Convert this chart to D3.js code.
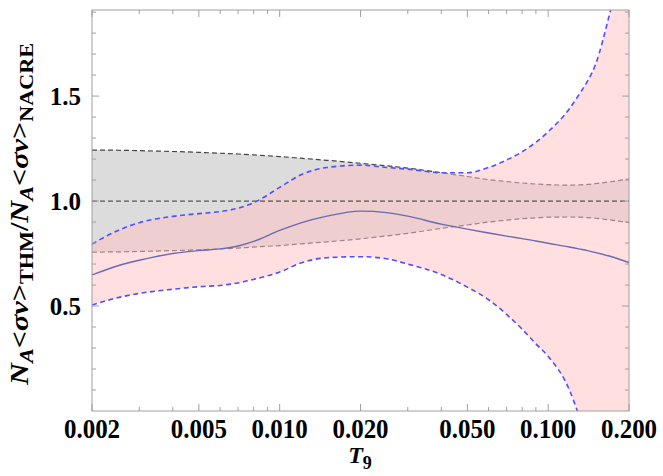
<!DOCTYPE html>
<html>
<head>
<meta charset="utf-8">
<script src="https://cdn.jsdelivr.net/npm/d3@7"></script>
<style>
  html, body { margin: 0; padding: 0; background: #ffffff; }
  svg { display: block; }
  text { font-family: "Liberation Serif", "Times New Roman", serif; font-weight: bold; fill: #000; }
</style>
</head>
<body>
<svg id="chart" width="663" height="476"></svg>
<script>
// ---------------- data ----------------
const t9 = [0.002, 0.0025, 0.003, 0.004, 0.005, 0.006, 0.007, 0.008, 0.01, 0.012, 0.015, 0.02, 0.025, 0.03, 0.04, 0.05, 0.06, 0.07, 0.08, 0.09, 0.1, 0.12, 0.13, 0.14, 0.15, 0.17, 0.2];
const nacreHi = [1.243, 1.242, 1.240, 1.236, 1.232, 1.228, 1.224, 1.220, 1.212, 1.204, 1.194, 1.180, 1.168, 1.157, 1.135, 1.117, 1.102, 1.093, 1.086, 1.081, 1.078, 1.076, 1.077, 1.079, 1.083, 1.092, 1.105];
const nacreLo = [0.757, 0.758, 0.760, 0.764, 0.768, 0.772, 0.776, 0.781, 0.788, 0.796, 0.806, 0.820, 0.834, 0.846, 0.870, 0.886, 0.900, 0.909, 0.916, 0.920, 0.923, 0.924, 0.923, 0.921, 0.918, 0.910, 0.897];
const thmCentral = [0.648, 0.692, 0.718, 0.750, 0.764, 0.772, 0.786, 0.808, 0.860, 0.896, 0.928, 0.952, 0.945, 0.928, 0.890, 0.866, 0.848, 0.833, 0.821, 0.810, 0.799, 0.781, 0.772, 0.764, 0.755, 0.737, 0.707];
const thmHi = [0.795, 0.860, 0.897, 0.927, 0.940, 0.950, 0.966, 0.992, 1.065, 1.125, 1.160, 1.171, 1.160, 1.152, 1.135, 1.135, 1.160, 1.195, 1.235, 1.280, 1.330, 1.440, 1.505, 1.570, 1.650, 1.900, 2.300];
const thmLo = [0.505, 0.540, 0.560, 0.580, 0.592, 0.598, 0.610, 0.627, 0.662, 0.705, 0.730, 0.735, 0.725, 0.700, 0.650, 0.590, 0.530, 0.460, 0.390, 0.320, 0.260, 0.100, -0.020, -0.150, -0.280, -0.550, -0.950];
const referenceLine = [1.0, 1.0];
const referenceT9 = [0.002, 0.2];
const xTickLabels = ["0.002", "0.005", "0.010", "0.020", "0.050", "0.100", "0.200"];
const xTickValues = [0.002, 0.005, 0.01, 0.02, 0.05, 0.1, 0.2];
const yTickLabels = ["0.5", "1.0", "1.5"];
const yTickValues = [0.5, 1.0, 1.5];

// ---------------- layout ----------------
const svg = d3.select("#chart");
const L = 92, R = 629, T = 10, B = 411;
const x = d3.scaleLog().domain([0.002, 0.2]).range([L, R]);
const y = d3.scaleLinear().domain([0, 1.91]).range([B, T]);

svg.append("defs").append("clipPath").attr("id", "plotclip")
  .append("rect").attr("x", L).attr("y", T).attr("width", R - L).attr("height", B - T);

const plot = svg.append("g").attr("clip-path", "url(#plotclip)");
const curve = d3.curveMonotoneX;
const idx = d3.range(t9.length);

const areaGen = (lo, hi) => d3.area().curve(curve)
  .x(i => x(t9[i])).y0(i => y(lo[i])).y1(i => y(hi[i]));
const lineGen = arr => d3.line().curve(curve)
  .x(i => x(t9[i])).y(i => y(arr[i]));

// gray NACRE band
plot.append("path").attr("d", areaGen(nacreLo, nacreHi)(idx))
  .attr("fill", "#dcdcdc").attr("stroke", "none");
// NACRE bounds (under the pink fill)
[nacreHi, nacreLo].forEach(arr => {
  plot.append("path").attr("d", lineGen(arr)(idx))
    .attr("fill", "none").attr("stroke", "#444444").attr("stroke-width", 1.2)
    .attr("stroke-dasharray", "5,3");
});
// pink THM band
plot.append("path").attr("d", areaGen(thmLo, thmHi)(idx))
  .attr("fill", "rgb(255,192,192)").attr("fill-opacity", 0.5).attr("stroke", "none");
// reference line at 1.0
plot.append("path")
  .attr("d", d3.line().x((d, i) => x(referenceT9[i])).y(d => y(d))(referenceLine))
  .attr("fill", "none").attr("stroke", "#555555").attr("stroke-width", 1.2)
  .attr("stroke-dasharray", "5,3");
// THM bounds
[thmHi, thmLo].forEach(arr => {
  plot.append("path").attr("d", lineGen(arr)(idx))
    .attr("fill", "none").attr("stroke", "#5050ff").attr("stroke-width", 1.6)
    .attr("stroke-dasharray", "5,3.5");
});
// THM central
plot.append("path").attr("d", lineGen(thmCentral)(idx))
  .attr("fill", "none").attr("stroke", "#6a6ab4").attr("stroke-width", 1.4);

// ---------------- frame & ticks ----------------
const frameColor = "#a0a0a0";
svg.append("rect").attr("x", L).attr("y", T).attr("width", R - L).attr("height", B - T)
  .attr("fill", "none").attr("stroke", frameColor).attr("stroke-width", 1);

const xMinor = [];
[0.001, 0.01, 0.1].forEach(dec => { for (let k = 2; k <= 9; k++) { const v = +(dec * k).toFixed(4); if (v >= 0.002 && v <= 0.2) xMinor.push(v); } });
const xMinorOnly = xMinor.filter(v => !xTickValues.some(m => Math.abs(m - v) < 1e-9));

const tickG = svg.append("g").attr("stroke", frameColor).attr("stroke-width", 1);
xTickValues.forEach(v => {
  const px = x(v);
  tickG.append("line").attr("x1", px).attr("x2", px).attr("y1", B).attr("y2", B - 7);
  tickG.append("line").attr("x1", px).attr("x2", px).attr("y1", T).attr("y2", T + 7);
});
xMinorOnly.forEach(v => {
  const px = x(v);
  tickG.append("line").attr("x1", px).attr("x2", px).attr("y1", B).attr("y2", B - 4);
  tickG.append("line").attr("x1", px).attr("x2", px).attr("y1", T).attr("y2", T + 4);
});
const yMinor = d3.range(1, 20).map(k => k / 10).filter(v => v <= 1.91 && !yTickValues.some(m => Math.abs(m - v) < 1e-9));
yTickValues.forEach(v => {
  const py = y(v);
  tickG.append("line").attr("x1", L).attr("x2", L + 7).attr("y1", py).attr("y2", py);
  tickG.append("line").attr("x1", R).attr("x2", R - 7).attr("y1", py).attr("y2", py);
});
yMinor.forEach(v => {
  const py = y(v);
  tickG.append("line").attr("x1", L).attr("x2", L + 4).attr("y1", py).attr("y2", py);
  tickG.append("line").attr("x1", R).attr("x2", R - 4).attr("y1", py).attr("y2", py);
});

// tick labels
xTickValues.forEach((v, i) => {
  svg.append("text").attr("transform", `translate(${x(v)},438) scale(1,1.12)`)
    .attr("text-anchor", "middle").attr("font-size", 25).text(xTickLabels[i]);
});
yTickValues.forEach((v, i) => {
  svg.append("text").attr("x", 81).attr("y", y(v) + 8.5).attr("text-anchor", "end")
    .attr("font-size", 25).text(yTickLabels[i]);
});

// x title
const xt = svg.append("text").attr("x", 360).attr("y", 463).attr("text-anchor", "middle").attr("font-size", 24);
xt.append("tspan").attr("font-style", "italic").text("T");
xt.append("tspan").attr("font-size", 18).attr("dy", 6).text("9");

// y title
const yt = svg.append("text").attr("transform", "translate(28,214) rotate(-90)")
  .attr("text-anchor", "middle").attr("font-size", 26)
  .attr("textLength", 342).attr("lengthAdjust", "spacingAndGlyphs");
yt.append("tspan").attr("font-style", "italic").text("N");
yt.append("tspan").attr("font-style", "italic").attr("font-size", 19).attr("dy", 5).text("A");
yt.append("tspan").attr("dy", -5).text("<");
yt.append("tspan").attr("font-style", "italic").text("σv");
yt.append("tspan").text(">");
yt.append("tspan").attr("font-size", 19).attr("dy", 5).text("THM");
yt.append("tspan").attr("dy", -5).text("/");
yt.append("tspan").attr("font-style", "italic").text("N");
yt.append("tspan").attr("font-style", "italic").attr("font-size", 19).attr("dy", 5).text("A");
yt.append("tspan").attr("dy", -5).text("<");
yt.append("tspan").attr("font-style", "italic").text("σv");
yt.append("tspan").text(">");
yt.append("tspan").attr("font-size", 19).attr("dy", 5).text("NACRE");
</script>
</body>
</html>
